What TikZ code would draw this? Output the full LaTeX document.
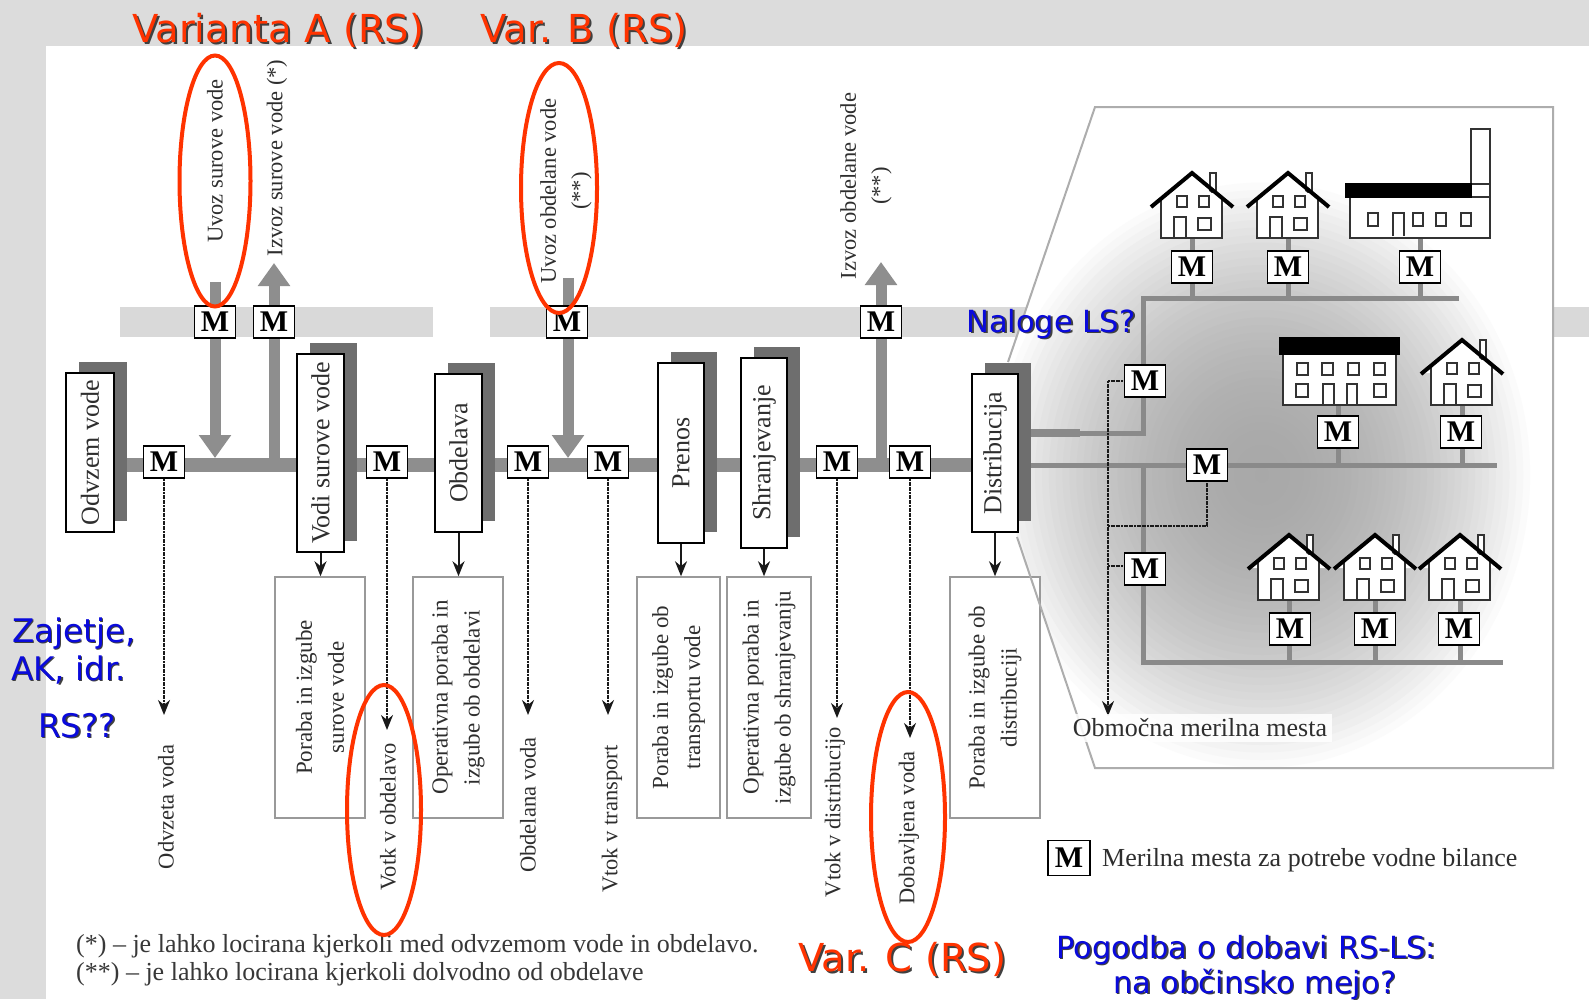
\documentclass[tikz,border=0pt]{standalone}
\usepackage{fontspec}
\setmainfont{Liberation Serif}
\newfontfamily\lblfont{DejaVu Sans}
\usetikzlibrary{arrows.meta}
\definecolor{bgc}{HTML}{DCDCDC}
\definecolor{bandc}{HTML}{D9D9D9}
\definecolor{pipec}{HTML}{8E8E8E}
\definecolor{shadc}{HTML}{6E6E6E}
\definecolor{txtc}{HTML}{2E2E2E}
\definecolor{redc}{HTML}{FF3300}
\definecolor{bluec}{HTML}{0A0ADC}
\definecolor{netc}{HTML}{8A8A8A}
\tikzset{
  pbox/.style={draw=black, line width=1.6pt, fill=white, rotate=90, inner sep=0pt,
    font=\fontsize{26}{30}\selectfont, text=txtc},
  lossbox/.style={draw=black!40, line width=1.5pt, fill=white, rotate=90, inner sep=0pt,
    align=center, font=\fontsize{23}{32}\selectfont, text=txtc},
  vlab/.style={rotate=90, inner sep=0pt, align=center, font=\fontsize{22.5}{31}\selectfont, text=txtc},
  mbox/.style={draw=black, line width=1.8pt, fill=white, minimum width=41pt, minimum height=32pt,
    inner sep=0pt, font=\fontsize{30}{30}\selectfont\bfseries, text=black},
  pipe/.style={pipec, line width=14pt},
  bigarrow/.style={pipec, line width=11pt, -{Triangle[width=31pt,length=23pt]}},
  flowarrow/.style={black!90, line width=2pt, dash pattern=on 2pt off 0.6pt,
    -{Stealth[length=15pt,width=12pt]}},
  lossarrow/.style={black!90, line width=2pt, -{Stealth[length=15pt,width=12pt]}},
  meterline/.style={black!90, line width=2pt, dash pattern=on 2pt off 0.6pt},
  net/.style={netc, line width=5pt},
  redlab/.style={anchor=base west, inner sep=0pt, font=\lblfont\fontsize{38.5}{40}\selectfont, text=redc},
  bluelab/.style={anchor=base west, inner sep=0pt, font=\lblfont\fontsize{30.5}{34}\selectfont, text=bluec},
  blueleft/.style={bluelab, font=\lblfont\fontsize{32.5}{36}\selectfont},
  shadowlab/.style={text=black!75},
  ring/.style={redc, line width=4pt},
  serifnote/.style={inner sep=0pt, text=black!78, font=\fontsize{26}{30}\selectfont},
  house/.pic={
    \fill[white] (-31,0) rectangle (30,-40);
    \fill[white] (-40,-32) -- (0,-65) -- (40,-32) -- cycle;
    \draw[black!80, line width=1.5pt, fill=white] (18,-65) rectangle (24,-46);
    \fill[white] (-28,-38) -- (0,-61) -- (28,-38) -- cycle;
    \draw[black!80, line width=1.5pt] (-31,-38) -- (-31,0) -- (30,0) -- (30,-38);
    \draw[black!80, line width=1.5pt] (-15,-42) rectangle (-5,-31);
    \draw[black!80, line width=1.5pt] (7,-42) rectangle (17,-31);
    \draw[black!80, line width=1.5pt] (-18,0) -- (-18,-21) -- (-6,-21) -- (-6,0);
    \draw[black!80, line width=1.5pt] (6,-20) rectangle (19,-8);
    \draw[black, line width=4pt, line join=miter] (-41,-31) -- (0,-65) -- (41,-31);
  }
}
\begin{document}
\begin{tikzpicture}[x=1pt,y=-1pt]
\useasboundingbox (0,0) rectangle (1589,999);
\fill[bgc] (0,0) rectangle (1589,999);
\fill[white] (46,46) rectangle (1589,999);

% bands
\fill[bandc] (120,307) rectangle (433,337);
\fill[bandc] (490,307) rectangle (1589,337);

% enlarged distribution region with soft gradient
\begin{scope}
  \clip (1008,362) -- (1095,107) -- (1553,107) -- (1553,768) -- (1095,768) -- (1017,537) -- cycle;
  \fill[white] (1000,100) rectangle (1560,770);
  \foreach \i in {0,...,39}{
    \pgfmathsetmacro{\rr}{1-\i/40}
    \pgfmathsetmacro{\kk}{34*(1-\rr*\rr)}
    \fill[black!\kk] (1262,475) ellipse [x radius=\rr*275pt, y radius=\rr*300pt];
  }
\end{scope}

% main pipe and big arrows
\coordinate (pipeL) at (110,465);
\coordinate (pipeR) at (1000,465);
\draw[pipe] (pipeL) -- (pipeR);
\coordinate (tA) at (215,282);  \coordinate (pA) at (215,458);
\coordinate (pA2) at (274,466); \coordinate (tA2) at (274,263);
\coordinate (tB) at (568,278);  \coordinate (pB) at (568,458);
\coordinate (pC) at (881,466);  \coordinate (tC) at (881,262);
\draw[bigarrow] (tA) -- (pA);
\draw[bigarrow] (pA2) -- (tA2);
\draw[bigarrow] (tB) -- (pB);
\draw[bigarrow] (pC) -- (tC);

% distribution network lines
\coordinate (dOut1) at (1018,433);
\coordinate (dOut2) at (1000,465);
\coordinate (nTopL) at (1143,298);
\coordinate (nTopR) at (1459,298);
\coordinate (nMidR) at (1497,465);
\coordinate (nBotL) at (1143,662);
\coordinate (nBotR) at (1503,662);
\draw[net] (dOut1) -- (1143,433) -- (nTopL) -- (nTopR);
\draw[netc, line width=8pt] (dOut1) -- (1080,433);
\draw[net] (dOut2) -- (nMidR);
\draw[net] (1143,465) -- (nBotL) -- (nBotR);

% house coordinates and drops
\coordinate (h1) at (1192,238);
\coordinate (h2) at (1288,238);
\coordinate (fa) at (1420,238);
\coordinate (bl) at (1338,405);
\coordinate (h3) at (1462,405);
\coordinate (h4) at (1289,600);
\coordinate (h5) at (1375,600);
\coordinate (h6) at (1460,600);
\draw[net] (h1) -- (h1 |- nTopL);
\draw[net] (h2) -- (h2 |- nTopL);
\draw[net] (fa) -- (fa |- nTopL);
\draw[net] (bl) -- (bl |- nMidR);
\draw[net] (h3) -- (h3 |- nMidR);
\draw[net] (h4) -- (h4 |- nBotR);
\draw[net] (h5) -- (h5 |- nBotR);
\draw[net] (h6) -- (h6 |- nBotR);

% houses
\pic at (h1) {house};
\pic at (h2) {house};
\pic at (h3) {house};
\pic at (h4) {house};
\pic at (h5) {house};
\pic at (h6) {house};
% factory
\draw[black!80, line width=1.5pt, fill=white] (1350,197) rectangle (1490,238);
\draw[black!80, line width=1.5pt, fill=white] (1471,129) rectangle (1490,197);
\draw[black!80, line width=1.5pt] (1471,184) -- (1490,184);
\fill[black] (1345,183) rectangle (1472,198);
\foreach \wx in {1368,1413,1436,1461} {\draw[black!80, line width=1.5pt] (\wx,213) rectangle (\wx+10,226);}
\draw[black!80, line width=1.5pt] (1393,236) -- (1393,213) -- (1404,213) -- (1404,236);
% building
\draw[black!80, line width=1.5pt, fill=white] (1283,352) rectangle (1396,405);
\fill[black] (1279,337) rectangle (1400,355);
\foreach \wx in {1297,1322,1348,1374} {\draw[black!80, line width=1.5pt] (\wx,363) rectangle (\wx+11,375);}
\draw[black!80, line width=1.5pt] (1296,384) rectangle (1308,397);
\draw[black!80, line width=1.5pt] (1374,384) rectangle (1386,397);
\draw[black!80, line width=1.5pt] (1323,405) -- (1323,384) -- (1334,384) -- (1334,405);
\draw[black!80, line width=1.5pt] (1347,405) -- (1347,384) -- (1357,384) -- (1357,405);

% process boxes with shadows
\fill[shadc] (79,362) rectangle (127,521);
\node[pbox, minimum width=159pt, minimum height=48pt] (odv) at (90,452.5) {Odvzem vode};
\fill[shadc] (310,343) rectangle (357,541);
\node[pbox, minimum width=198pt, minimum height=47pt] (vodi) at (320.5,453) {Vodi surove vode};
\fill[shadc] (448,363) rectangle (495,521);
\node[pbox, minimum width=158pt, minimum height=47pt] (obd) at (458.5,453) {Obdelava};
\fill[shadc] (671,352) rectangle (717,532);
\node[pbox, minimum width=180pt, minimum height=46pt] (pre) at (681,453) {Prenos};
\fill[shadc] (754,347) rectangle (800,537);
\node[pbox, minimum width=190pt, minimum height=46pt] (shr) at (764,453) {Shranjevanje};
\fill[shadc] (985,363) rectangle (1031,521);
\node[pbox, minimum width=158pt, minimum height=46pt] (dis) at (995,453) {Distribucija};

% loss boxes
\node[lossbox, minimum width=241pt, minimum height=90pt] (l1) at (320,697.5) {Poraba in izgube\\surove vode};
\node[lossbox, minimum width=241pt, minimum height=90pt] (l2) at (458,697.5) {Operativna poraba in\\izgube ob obdelavi};
\node[lossbox, minimum width=241pt, minimum height=83pt] (l3) at (678.5,697.5) {Poraba in izgube ob\\transportu vode};
\node[lossbox, minimum width=241pt, minimum height=84pt] (l4) at (769,697.5) {Operativna poraba in\\izgube ob shranjevanju};
\node[lossbox, minimum width=241pt, minimum height=90pt] (l5) at (995,697.5) {Poraba in izgube ob\\distribuciji};

\draw[lossarrow] (vodi.west) -- (vodi.west |- l1.east);
\draw[lossarrow] (obd.west) -- (obd.west |- l2.east);
\draw[lossarrow] (pre.west) -- (pre.west |- l3.east);
\draw[lossarrow] (shr.west) -- (shr.west |- l4.east);
\draw[lossarrow] (dis.west) -- (dis.west |- l5.east);

% zoom frame outline
\draw[black!32, line width=2pt] (1008,362) -- (1095,107) -- (1553,107) -- (1553,768) -- (1095,768) -- (1017,537);

% meters on main line
\node[mbox] (m1) at (164,462) {M};
\node[mbox] (m2) at (387,462) {M};
\node[mbox] (m3) at (528,462) {M};
\node[mbox] (m4) at (608,462) {M};
\node[mbox] (m5) at (837,462) {M};
\node[mbox] (m6) at (910,462) {M};
% meters on band
\node[mbox] (mb1) at (215,322) {M};
\node[mbox] (mb2) at (274,322) {M};
\node[mbox] (mb3) at (567,322) {M};
\node[mbox] (mb4) at (881,322) {M};

% flow arrows down
\coordinate (e1) at (164,715);
\coordinate (e2) at (387,730);
\coordinate (e3) at (528,715);
\coordinate (e4) at (608,715);
\coordinate (e5) at (837,718);
\coordinate (e6) at (910,738);
\draw[flowarrow] (m1) -- (e1);
\draw[flowarrow] (m2) -- (e2);
\draw[flowarrow] (m3) -- (e3);
\draw[flowarrow] (m4) -- (e4);
\draw[flowarrow] (m5) -- (e5);
\draw[flowarrow] (m6) -- (e6);

% network meters
\node[mbox] (mh1) at (1192,267) {M};
\node[mbox] (mh2) at (1288,267) {M};
\node[mbox] (mfa) at (1420,267) {M};
\node[mbox] (mbl) at (1338,432) {M};
\node[mbox] (mh3) at (1461,432) {M};
\node[mbox] (mh4) at (1290,629) {M};
\node[mbox] (mh5) at (1375,629) {M};
\node[mbox] (mh6) at (1459,629) {M};
\coordinate (mv) at (1108,381);
\coordinate (mvEnd) at (1108,716);
\draw[flowarrow] (mv) -- (mvEnd);
\coordinate (mj1) at (1108,526);
\coordinate (mj2) at (1108,566);
\draw[meterline] (mj1) -- (1207,526) -- (1207,470);
\draw[meterline] (mv) -- (1130,381);
\draw[meterline] (mj2) -- (1130,566);
\node[mbox] (mA) at (1145,381) {M};
\node[mbox] (mB) at (1207,465) {M};
\node[mbox] (mC) at (1145,569) {M};

\node[serifnote, inner sep=5pt, fill=white, fill opacity=0.85, text opacity=1, text=txtc] (obm) at (1200,728) {Območna merilna mesta};

% legend
\node[mbox, minimum width=42pt, minimum height=35pt] (mleg) at (1069,858) {M};
\node[serifnote, anchor=west, text=txtc] (leg) at (1102,860) {Merilna mesta za potrebe vodne bilance};

% vertical labels top
\node[vlab] (uvs) at (215,161) {Uvoz surove vode};
\node[vlab] (izs) at (277,158) {Izvoz surove vode (*)};
\node[vlab] (uvo) at (566,191) {Uvoz obdelane vode\\(**)};
\node[vlab] (izo) at (866,186) {Izvoz obdelane vode\\(**)};
% vertical labels bottom
\node[vlab] (lb1) at (166,807) {Odvzeta voda};
\node[vlab] (lb2) at (388,817) {Votk v obdelavo};
\node[vlab] (lb3) at (528,805) {Obdelana voda};
\node[vlab] (lb4) at (612,819) {Vtok v transport};
\node[vlab] (lb5) at (835,812) {Vtok v distribucijo};
\node[vlab] (lb6) at (909,828) {Dobavljena voda};

% footnotes
\node[serifnote, anchor=base west] (fn1) at (76,952) {(*) – je lahko locirana kjerkoli med odvzemom vode in obdelavo.};
\node[serifnote, anchor=base west] (fn2) at (76,980) {(**) – je lahko locirana kjerkoli dolvodno od obdelave};

% red rings
\draw[ring] (215,181) ellipse [x radius=35.5pt, y radius=125.5pt];
\draw[ring] (559,188) ellipse [x radius=38pt, y radius=125pt];
\draw[ring] (384,810) ellipse [x radius=37pt, y radius=125pt];
\draw[ring] (908,817) ellipse [x radius=37pt, y radius=125pt];

% red labels
\node[redlab, shadowlab] (varAs) at (134,44) {Varianta A (RS)};
\node[redlab] (varA) at (132,42) {Varianta A (RS)};
\node[redlab, shadowlab] (varBs) at (482,44) {Var. B (RS)};
\node[redlab] (varB) at (480,42) {Var. B (RS)};
\node[redlab, shadowlab] (varCs) at (800,973) {Var. C (RS)};
\node[redlab] (varC) at (798,971) {Var. C (RS)};

% blue labels
\node[bluelab, shadowlab] (nals) at (968,333.5) {Naloge LS?};
\node[bluelab] (nal) at (966,332) {Naloge LS?};
\node[blueleft, shadowlab] (zajs) at (13.5,643.5) {Zajetje,};
\node[blueleft] (zaj) at (12,642) {Zajetje,};
\node[blueleft, shadowlab] (aks) at (12.5,681.5) {AK, idr.};
\node[blueleft] (ak) at (11,680) {AK, idr.};
\node[blueleft, shadowlab] (rss) at (39.5,738.5) {RS??};
\node[blueleft] (rs) at (38,737) {RS??};
\node[bluelab, shadowlab] (pogs) at (1057.5,959.5) {Pogodba o dobavi RS-LS:};
\node[bluelab] (pog) at (1056,958) {Pogodba o dobavi RS-LS:};
\node[bluelab, shadowlab] (meis) at (1114.5,994.5) {na občinsko mejo?};
\node[bluelab] (mei) at (1113,993) {na občinsko mejo?};
\end{tikzpicture}
\end{document}
